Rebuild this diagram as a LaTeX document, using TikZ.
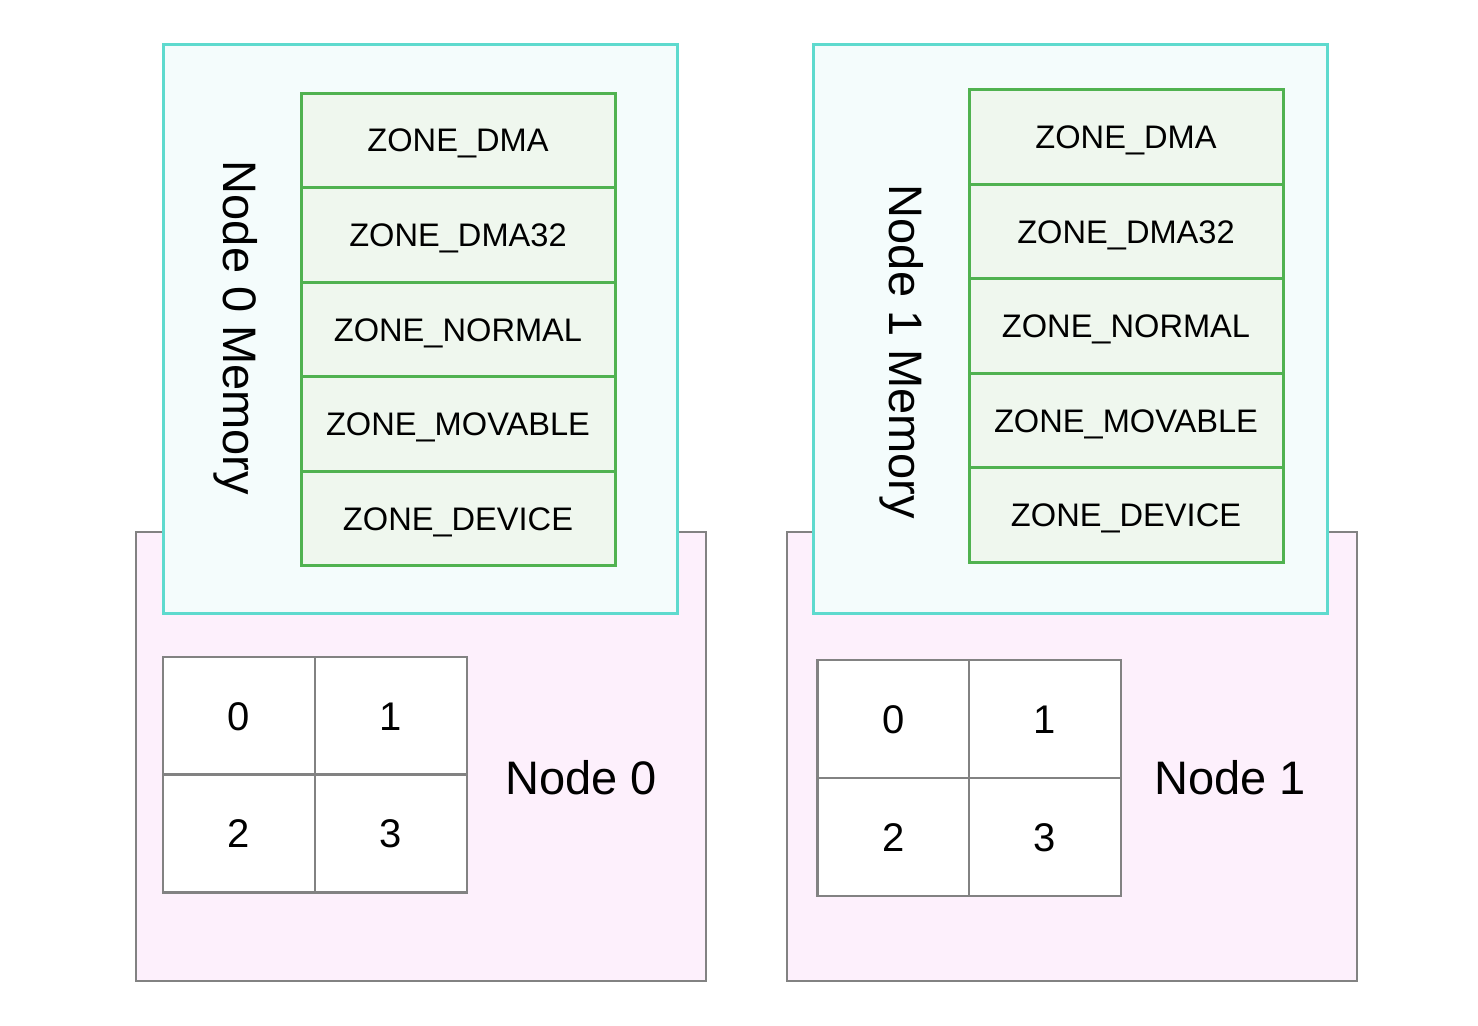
\documentclass[tikz,border=0pt]{standalone}
\usepackage{fontspec}
\setmainfont{Liberation Sans}
\definecolor{pinkfill}{RGB}{253,240,252}
\definecolor{grayline}{RGB}{130,130,130}
\definecolor{cyanline}{RGB}{94,218,206}
\definecolor{cyanfill}{RGB}{244,252,252}
\definecolor{greenline}{RGB}{80,178,80}
\definecolor{greenfill}{RGB}{239,247,238}
\begin{document}
\begin{tikzpicture}[x=0.5pt,y=-0.5pt,
  every node/.style={inner sep=0pt,outer sep=0pt},
  nodebox/.style={draw=grayline,fill=pinkfill,line width=1.25pt,minimum width=285pt,minimum height=224.5pt},
  membox/.style={draw=cyanline,fill=cyanfill,line width=1.5pt,minimum width=257pt,minimum height=284pt},
  zonebox/.style={draw=greenline,fill=greenfill,line width=1.5pt,minimum width=157pt,minimum height=47.2pt,font=\fontsize{16.3}{18}\selectfont,text height=11.67pt,text depth=0pt},
  cpucell/.style={draw=grayline,fill=white,line width=1.25pt,minimum width=76pt,minimum height=58.8pt,font=\fontsize{20}{22}\selectfont,text height=14.32pt,text depth=0pt},
  nodelabel/.style={font=\fontsize{23.5}{26}\selectfont,text height=16.83pt,text depth=0pt},
  memlabel/.style={font=\fontsize{23.5}{26}\selectfont,rotate=-90,text height=16.83pt,text depth=0pt}
]
\useasboundingbox (0,0) rectangle (1478,1026);
% ---------- Node 0 ----------
\node[nodebox] (n0) at (421,756.5) {};
\node[membox] (m0) at (420,329) {};
\node[memlabel] (m0l) at (240,328) {Node 0 Memory};
\node[zonebox] (z0a) at (458,140.3) {ZONE\_DMA};
\node[zonebox] (z0b) at (458,234.9) {ZONE\_DMA32};
\node[zonebox] (z0c) at (458,329.5) {ZONE\_NORMAL};
\node[zonebox] (z0d) at (458,424.1) {ZONE\_MOVABLE};
\node[zonebox] (z0e) at (458,518.7) {ZONE\_DEVICE};
\node[cpucell] (c00) at (239,716) {0};
\node[cpucell] (c01) at (391,716) {1};
\node[cpucell] (c02) at (239,833.5) {2};
\node[cpucell] (c03) at (391,833.5) {3};
\node[nodelabel] (n0l) at (581,778) {Node 0};
% ---------- Node 1 ----------
\node[nodebox] (n1) at (1072,756.5) {};
\node[membox] (m1) at (1070.5,329) {};
\node[memlabel] (m1l) at (906,352) {Node 1 Memory};
\node[zonebox] (z1a) at (1126,137.2) {ZONE\_DMA};
\node[zonebox] (z1b) at (1126,231.6) {ZONE\_DMA32};
\node[zonebox] (z1c) at (1126,326) {ZONE\_NORMAL};
\node[zonebox] (z1d) at (1126,420.4) {ZONE\_MOVABLE};
\node[zonebox] (z1e) at (1126,514.8) {ZONE\_DEVICE};
\node[cpucell] (c10) at (893.5,719) {0};
\node[cpucell] (c11) at (1045,719) {1};
\node[cpucell] (c12) at (893.5,837) {2};
\node[cpucell] (c13) at (1045,837) {3};
\node[nodelabel] (n1l) at (1230,778) {Node 1};
\end{tikzpicture}
\end{document}
